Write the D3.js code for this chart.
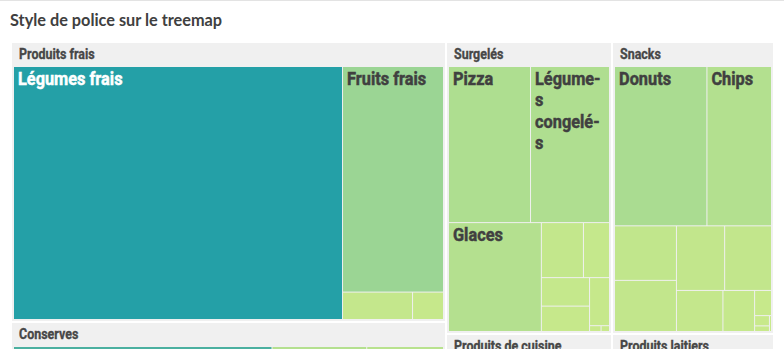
<!DOCTYPE html>
<html>
<head>
<meta charset="utf-8">
<script src="https://d3js.org/d3.v7.min.js"></script>
<style>
  html, body { margin: 0; padding: 0; background: #fff; overflow: hidden; }
  svg { display: block; }
</style>
</head>
<body>
<div id="chart"></div>
<script>
    const chartTitle = "Style de police sur le treemap";

    // top level categories (sales, k€)
    const categories = ["Produits frais", "Conserves", "Surgelés", "Snacks", "Produits de cuisine", "Produits laitiers"];

    const produitsFraisNames  = ["Légumes frais", "Fruits frais", "Herbes fraîches", "Champignons"];
    const produitsFraisValues = [932, 255, 21.5, 9.5];

    const conservesNames  = ["Légumes en conserve", "Poisson en conserve", "Soupes", "Fruits au sirop", "Plats cuisinés", "Sauces"];
    const conservesValues = [536.1, 110.7, 89.7, 75.7, 48.9, 30.6];

    const surgelesNames  = ["Pizza", "Légumes congelés", "Glaces", "Frites", "Poisson pané", "Plats préparés", "Viandes", "Fruits surgelés", "Herbes", "Pâtisseries"];
    const surgelesValues = [145.5, 140.1, 114.9, 26.3, 16.3, 15.6, 13.9, 10.9, 0.76, 0.56];

    const snacksNames  = ["Donuts", "Chips", "Biscuits", "Bonbons", "Chocolat", "Crackers", "Bretzels", "Popcorn", "Noix", "Barres", "Gaufres", "Cacahuètes"];
    const snacksValues = [167.4, 117, 38.4, 36, 35.4, 34.4, 21.7, 14.8, 4.84, 1.73, 0.95, 0.37];

    const cuisineNames  = ["Huiles", "Épices", "Pâtes", "Riz"];
    const cuisineValues = [120, 80, 70, 50.4];

    const laitiersNames  = ["Fromages", "Yaourts", "Lait", "Beurre"];
    const laitiersValues = [130, 90, 60, 32.7];

    const colorStops = [0, 255, 536, 932];
    const colorRange = ["#c8e98b", "#9bd594", "#4bb0a0", "#24a0a7"];

    const itemLists = [
        [produitsFraisNames, produitsFraisValues],
        [conservesNames, conservesValues],
        [surgelesNames, surgelesValues],
        [snacksNames, snacksValues],
        [cuisineNames, cuisineValues],
        [laitiersNames, laitiersValues],
    ];

    const data = {
        name: "root",
        children: categories.map((c, i) => ({
            name: c,
            children: itemLists[i][0].map((n, j) => ({name: n, value: itemLists[i][1][j]}))
        }))
    };

    const width = 784;
    const height = 349;
    // condensed heavy look: bold sans squeezed horizontally
    const labelFont = "Roboto, 'Liberation Sans', sans-serif";
    const squeeze = 0.86;

    const svg = d3.select("#chart").append("svg")
        .attr("width", width)
        .attr("height", height);

    svg.append("rect").attr("width", width).attr("height", height).attr("fill", "#fff");
    svg.append("line")
        .attr("x1", 0).attr("x2", width)
        .attr("y1", 0.5).attr("y2", 0.5)
        .attr("stroke", "#e3e3e3");

    svg.append("text")
        .attr("x", 10)
        .attr("y", 26)
        .attr("fill", "#404040")
        .style("font-family", "Lato, 'Open Sans', sans-serif")
        .style("font-weight", 700)
        .style("font-size", "16.3px")
        .text(chartTitle);

    const treemap = d3.treemap()
        .size([761, 483])
        .tile(d3.treemapSquarify)
        .paddingInner(d => d.depth === 0 ? 2 : 1)
        .paddingTop(d => d.depth === 1 ? 24 : 0)
        .paddingLeft(d => d.depth === 1 ? 2 : 0)
        .paddingRight(d => d.depth === 1 ? 2 : 0)
        .paddingBottom(d => d.depth === 1 ? 2 : 0);

    const root = d3.hierarchy(data)
        .sum(d => d.value)
        .sort((a, b) => b.value - a.value);
    treemap(root);

    const color = d3.scaleLinear().domain(colorStops).range(colorRange);

    const g = svg.append("g").attr("transform", "translate(12,43)");

    // group boxes
    const grp = g.selectAll("g.grp").data(root.children).enter().append("g").attr("class", "grp");
    grp.append("rect")
        .attr("x", d => d.x0)
        .attr("y", d => d.y0)
        .attr("width", d => d.x1 - d.x0)
        .attr("height", d => d.y1 - d.y0)
        .attr("fill", "#f0f0f0");
    grp.append("text")
        .attr("transform", d => `translate(${d.x0 + 7},${d.y0 + 16}) scale(${squeeze},1)`)
        .attr("fill", "#474747")
        .attr("stroke", "#474747")
        .attr("stroke-width", 0.35)
        .style("font-family", labelFont)
        .style("font-weight", 700)
        .style("font-size", "14.5px")
        .text(d => d.data.name);

    // leaves
    const leaves = g.selectAll("g.leaf").data(root.leaves()).enter().append("g").attr("class", "leaf");
    leaves.append("rect")
        .attr("x", d => d.x0)
        .attr("y", d => d.y0)
        .attr("width", d => d.x1 - d.x0)
        .attr("height", d => d.y1 - d.y0)
        .attr("fill", d => color(d.value));

    function splitLines(el, label, maxW) {
        const measure = s => { el.text(s); return el.node().getComputedTextLength() * squeeze; };
        const lines = [];
        let line = "";
        label.split(" ").forEach(w => {
            const t = line ? line + " " + w : w;
            if (measure(t) <= maxW) { line = t; return; }
            if (line) lines.push(line);
            line = "";
            let rest = w;
            while (measure(rest) > maxW && rest.length > 1) {
                let k = rest.length - 1;
                while (k > 1 && measure(rest.slice(0, k) + "-") > maxW) k--;
                lines.push(rest.slice(0, k) + "-");
                rest = rest.slice(k);
            }
            line = rest;
        });
        if (line) lines.push(line);
        el.text(null);
        return lines;
    }

    leaves.filter(d => (d.x1 - d.x0) >= 60 && (d.y1 - d.y0) >= 60)
        .each(function (d) {
            const w = d.x1 - d.x0;
            const bg = d3.lab(color(d.value));
            const fg = bg.l < 63 ? "#ffffff" : "#404040";
            const t = d3.select(this).append("text")
                .attr("transform", `translate(${d.x0 + 4},${d.y0 + 18}) scale(${squeeze},1)`)
                .attr("fill", fg)
                .attr("stroke", fg)
                .attr("stroke-width", 0.5)
                .style("font-family", labelFont)
                .style("font-weight", 700)
                .style("font-size", "19px");
            const lines = splitLines(t, d.data.name, w - 12);
            lines.forEach((ln, i) => {
                t.append("tspan")
                    .attr("x", 0)
                    .attr("y", i * 21.5)
                    .text(ln);
            });
        });
</script>
</body>
</html>
